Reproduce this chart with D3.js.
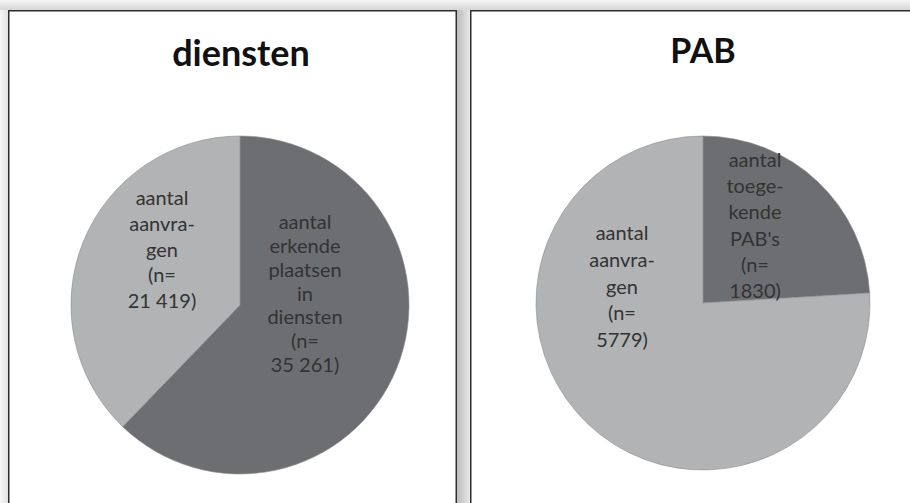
<!DOCTYPE html>
<html>
<head>
<meta charset="utf-8">
<script src="https://cdn.jsdelivr.net/npm/d3@7"></script>
<style>
  html, body { margin: 0; padding: 0; background: #ffffff; }
  svg { display: block; }
</style>
</head>
<body>
<svg id="chart" width="910" height="503"></svg>
<script>
// ---------- data ----------
const chartTitles = ["diensten", "PAB"];

const dienstenNames = [
  ["aantal", "erkende", "plaatsen", "in", "diensten"],
  ["aantal", "aanvra-", "gen"]
];
const dienstenValues = [35261, 21419];

const pabNames = [
  ["aantal", "toege-", "kende", "PAB's"],
  ["aantal", "aanvra-", "gen"]
];
const pabValues = [1830, 5779];

const sliceColors = ["#6d6e71", "#b2b3b5"];

// ---------- layout (not data) ----------
const panels = [
  { x: 8, w: 449, cx: 240, cy: 305, r: 169, titleX: 241, titleY: 66, titleSize: 36,
    labels: [ { dx: 65, dy: -4.5, lh: 23.8 }, { dx: -78, dy: -48.5, lh: 25.75 } ] },
  { x: 470, w: 460, cx: 703, cy: 303, r: 167, titleX: 703, titleY: 63, titleSize: 34,
    labels: [ { dx: 52, dy: -70.5, lh: 26.2 }, { dx: -81, dy: -9.5, lh: 26.75 } ] }
];
const panelData = [
  { names: dienstenNames, values: dienstenValues },
  { names: pabNames, values: pabValues }
];

const svg = d3.select("#chart");
const defs = svg.append("defs");

// shadows / background
const gTop = defs.append("linearGradient").attr("id", "gTop").attr("x1", 0).attr("y1", 0).attr("x2", 0).attr("y2", 1);
gTop.append("stop").attr("offset", "0%").attr("stop-color", "#f6f6f6");
gTop.append("stop").attr("offset", "100%").attr("stop-color", "#d6d6d6");
const gMid = defs.append("linearGradient").attr("id", "gMid").attr("x1", 0).attr("y1", 0).attr("x2", 1).attr("y2", 0);
gMid.append("stop").attr("offset", "0%").attr("stop-color", "#bdbdbd");
gMid.append("stop").attr("offset", "45%").attr("stop-color", "#cfcfcf");
gMid.append("stop").attr("offset", "100%").attr("stop-color", "#e9e9e9");
const gLeft = defs.append("linearGradient").attr("id", "gLeft").attr("x1", 0).attr("y1", 0).attr("x2", 1).attr("y2", 0);
gLeft.append("stop").attr("offset", "0%").attr("stop-color", "#f7f7f7");
gLeft.append("stop").attr("offset", "100%").attr("stop-color", "#e2e2e2");

svg.append("rect").attr("x", 0).attr("y", 0).attr("width", 910).attr("height", 503).attr("fill", "#ffffff");
svg.append("rect").attr("x", 0).attr("y", 0).attr("width", 910).attr("height", 10).attr("fill", "url(#gTop)");
svg.append("rect").attr("x", 0).attr("y", 10).attr("width", 8).attr("height", 493).attr("fill", "url(#gLeft)");
svg.append("rect").attr("x", 457).attr("y", 10).attr("width", 13).attr("height", 493).attr("fill", "url(#gMid)");

const fmtBig = d3.formatLocale({ decimal: ",", thousands: " ", grouping: [3], currency: ["€", ""] }).format(",d");
const fmtN = v => v >= 10000 ? fmtBig(v) : String(v);

const pie = d3.pie().sort(null).value(d => d).startAngle(0).endAngle(2 * Math.PI);

panels.forEach((p, i) => {
  const g = svg.append("g");
  g.append("rect")
    .attr("x", p.x + 0.75).attr("y", 10.75)
    .attr("width", p.w - 1.5).attr("height", 600)
    .attr("fill", "#ffffff").attr("stroke", "#2e2e2e").attr("stroke-width", 1.5);

  g.append("text")
    .attr("x", p.titleX).attr("y", p.titleY)
    .attr("text-anchor", "middle")
    .attr("font-family", "Lato, 'Open Sans', sans-serif")
    .attr("font-weight", 700)
    .attr("font-size", p.titleSize)
    .attr("fill", "#111111")
    .text(chartTitles[i]);

  const data = panelData[i];
  const arcs = pie(data.values);
  const arc = d3.arc().innerRadius(0).outerRadius(p.r);
  const pg = g.append("g").attr("transform", `translate(${p.cx},${p.cy})`);
  pg.selectAll("path").data(arcs).join("path")
    .attr("d", arc)
    .attr("fill", (d, j) => sliceColors[j])
    .attr("stroke", "#8a8b8d").attr("stroke-width", 0.6);

  arcs.forEach((a, j) => {
    const lines = data.names[j].concat(["(n=", fmtN(data.values[j]) + ")"]);
    const L = p.labels[j];
    const n = lines.length;
    const t = pg.append("text")
      .attr("text-anchor", "middle")
      .attr("font-family", "Lato, 'Open Sans', sans-serif")
      .attr("font-size", 20)
      .attr("fill", "#333333");
    lines.forEach((ln, k) => {
      t.append("tspan")
        .attr("x", L.dx)
        .attr("y", L.dy + (k - (n - 1) / 2) * L.lh)
        .text(ln);
    });
  });
});
</script>
</body>
</html>
